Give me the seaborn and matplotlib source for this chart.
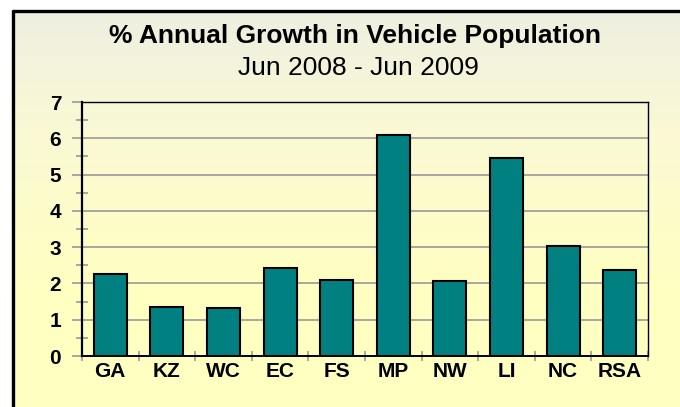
import numpy as np
import pandas as pd
import matplotlib
matplotlib.use("Agg")
import matplotlib.pyplot as plt
from matplotlib.lines import Line2D
import seaborn as sns

categories = ["GA", "KZ", "WC", "EC", "FS", "MP", "NW", "LI", "NC", "RSA"]
growth = [2.26, 1.35, 1.32, 2.43, 2.10, 6.10, 2.06, 5.45, 3.02, 2.37]
y_ticks = [0, 1, 2, 3, 4, 5, 6, 7]
title_text = "% Annual Growth in Vehicle Population"
subtitle_text = "Jun 2008 - Jun 2009"

sns.set_theme(style="white")
plt.rcParams['font.family'] = ['Liberation Sans', 'DejaVu Sans']

W, H = 680, 407
fig = plt.figure(figsize=(W / 100, H / 100), dpi=100)
fig.patch.set_facecolor("white")

# gradient background inside the frame (pixel image, row 0 = bottom)
img = np.ones((H, W, 3))
rows = np.arange(H)[::-1]  # distance from top in pixels for each row index
top_c = np.array([238, 238, 227]) / 255.0
mid_c = np.array([250, 249, 212]) / 255.0
bot_c = np.array([255, 255, 194]) / 255.0
for r in range(H):
    d = rows[r]
    if d < 130:
        t = d / 130.0
        c = top_c * (1 - t) + mid_c * t
    else:
        t = min((d - 130) / 150.0, 1.0)
        c = mid_c * (1 - t) + bot_c * t
    img[r, 12:, :] = c
img[H - 10:, :, :] = 1.0
fig.figimage(img, xo=0, yo=0, origin="lower", zorder=-10)

# frame lines (top and left visible)
fig.add_artist(Line2D([12 / W, 1], [(H - 10.5) / H, (H - 10.5) / H], color="black", lw=2.4,
                      transform=fig.transFigure, solid_capstyle="butt"))
fig.add_artist(Line2D([12.5 / W, 12.5 / W], [0, (H - 10) / H], color="black", lw=2.4,
                      transform=fig.transFigure, solid_capstyle="butt"))

ax = fig.add_axes([82 / W, (H - 356) / H, (648 - 82) / W, (356 - 102) / H])
ax.patch.set_alpha(0)

df = pd.DataFrame({"Region": categories, "Growth": growth})
sns.barplot(data=df, x="Region", y="Growth", color="#008080", saturation=1,
            edgecolor="black", linewidth=1.5, width=0.58, ax=ax, zorder=3)

ax.set_ylim(0, 7)
ax.set_xlim(-0.5, len(categories) - 0.5)
ax.set_yticks(y_ticks)
ax.set_yticks(np.arange(0.5, 7, 1.0), minor=True)
ax.set_xticks(np.arange(-0.5, len(categories), 1.0), minor=True)
ax.set_xlabel("")
ax.set_ylabel("")
ax.yaxis.grid(True, color="#999999", lw=1.2, zorder=0)
ax.set_axisbelow(True)

for sp in ax.spines.values():
    sp.set_visible(True)
    sp.set_color("black")
    sp.set_linewidth(1.0)
ax.spines["left"].set_linewidth(1.6)
ax.spines["bottom"].set_linewidth(1.4)

ax.tick_params(axis="y", which="major", direction="out", length=7, width=1.2,
               color="#999999", labelsize=15, pad=8, left=True)
ax.tick_params(axis="y", which="minor", direction="inout", length=8, width=1.2,
               color="#999999", left=True)
ax.tick_params(axis="x", which="major", length=0, labelsize=15, pad=4, bottom=True)
ax.tick_params(axis="x", which="minor", direction="inout", length=7, width=1.2,
               color="#999999", bottom=True)
for lab in ax.get_xticklabels() + ax.get_yticklabels():
    lab.set_fontweight("bold")
    lab.set_color("black")

fig.text(355 / W, (H - 36) / H, title_text, ha="center", va="center",
         fontsize=19, fontweight="bold", color="black")
fig.text(358 / W, (H - 68) / H, subtitle_text, ha="center", va="center",
         fontsize=19, color="black")

fig.savefig("out.png", dpi=100)
